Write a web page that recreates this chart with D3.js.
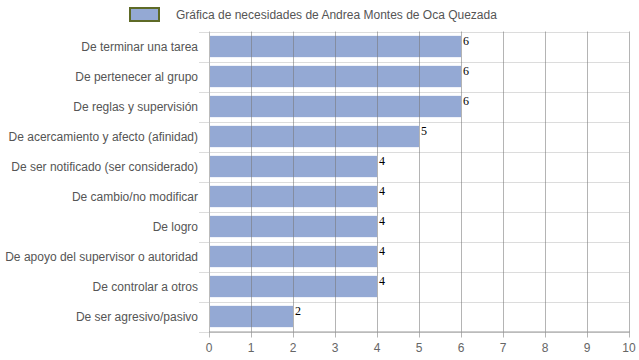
<!DOCTYPE html>
<html><head><meta charset="utf-8">
<script src="https://cdn.jsdelivr.net/npm/d3@7"></script>
<style>body{margin:0;background:#fff}svg{display:block}</style>
</head><body>
<svg id="c" width="639" height="360"></svg>
<script>
const categories = ["De terminar una tarea","De pertenecer al grupo","De reglas y supervisión","De acercamiento y afecto (afinidad)","De ser notificado (ser considerado)","De cambio/no modificar","De logro","De apoyo del supervisor o autoridad","De controlar a otros","De ser agresivo/pasivo"];
const values = [6,6,6,5,4,4,4,4,4,2];
const xTicks = [0,1,2,3,4,5,6,7,8,9,10];
const seriesName = "Gráfica de necesidades de Andrea Montes de Oca Quezada";

(function(){
const svg = d3.select("#c");
const pL = 209, pR = 629, pT = 31.5, pB = 331.5;
const x = d3.scaleLinear().domain([0,10]).range([pL,pR]);
const y = d3.scaleBand().domain(categories).range([pT,pB]).paddingInner(0.29).paddingOuter(0.145);
const band = d3.scaleBand().domain(categories).range([pT,pB]);

const seps = d3.range(categories.length+1).map(i => pT + i*band.step());
svg.append("g").selectAll("line").data(seps).join("line")
  .attr("x1",199).attr("x2",pR).attr("y1",d=>Math.round(d)+0.5).attr("y2",d=>Math.round(d)+0.5)
  .attr("stroke","#dcdcdc").attr("stroke-width",1);

svg.append("g").selectAll("rect").data(values).join("rect")
  .attr("x",x(0)).attr("y",(d,i)=>y(categories[i]))
  .attr("width",d=>x(d)-x(0)).attr("height",y.bandwidth())
  .attr("fill","#94a9d4");

svg.append("g").selectAll("line").data(xTicks.slice(1)).join("line")
  .attr("x1",d=>Math.round(x(d))+0.5).attr("x2",d=>Math.round(x(d))+0.5)
  .attr("y1",pT).attr("y2",pB+6)
  .attr("stroke","#777").attr("stroke-opacity",0.55);

svg.append("line").attr("x1",pL+0.5).attr("x2",pL+0.5).attr("y1",pT).attr("y2",pB+6)
  .attr("stroke","#bbb");
svg.append("line").attr("x1",pL).attr("x2",pR+1).attr("y1",pB+0.5).attr("y2",pB+0.5)
  .attr("stroke","#999");

svg.append("g").selectAll("text").data(xTicks).join("text")
  .attr("x",d=>x(d)).attr("y",352).attr("text-anchor","middle")
  .attr("font-family","Liberation Sans, Arial, sans-serif").attr("font-size",12).attr("fill","#666")
  .text(d=>d);

svg.append("g").selectAll("text").data(categories).join("text")
  .attr("x",198).attr("y",d=>band(d)+band.bandwidth()/2+4.5).attr("text-anchor","end")
  .attr("font-family","Liberation Sans, Arial, sans-serif").attr("font-size",12).attr("fill","#555")
  .text(d=>d);

svg.append("g").selectAll("text").data(values).join("text")
  .attr("x",d=>x(d)+2).attr("y",(d,i)=>y(categories[i])+9)
  .attr("font-family","Liberation Serif, Times New Roman, serif").attr("font-size",12).attr("fill","#000")
  .text(d=>d);

svg.append("rect").attr("x",130).attr("y",8).attr("width",29).attr("height",13)
  .attr("fill","#94a9d4").attr("stroke","#5e6a26").attr("stroke-width",2);
svg.append("text").attr("x",176).attr("y",19)
  .attr("font-family","Liberation Sans, Arial, sans-serif").attr("font-size",12).attr("fill","#555")
  .text(seriesName);
})();
</script>
</body></html>
